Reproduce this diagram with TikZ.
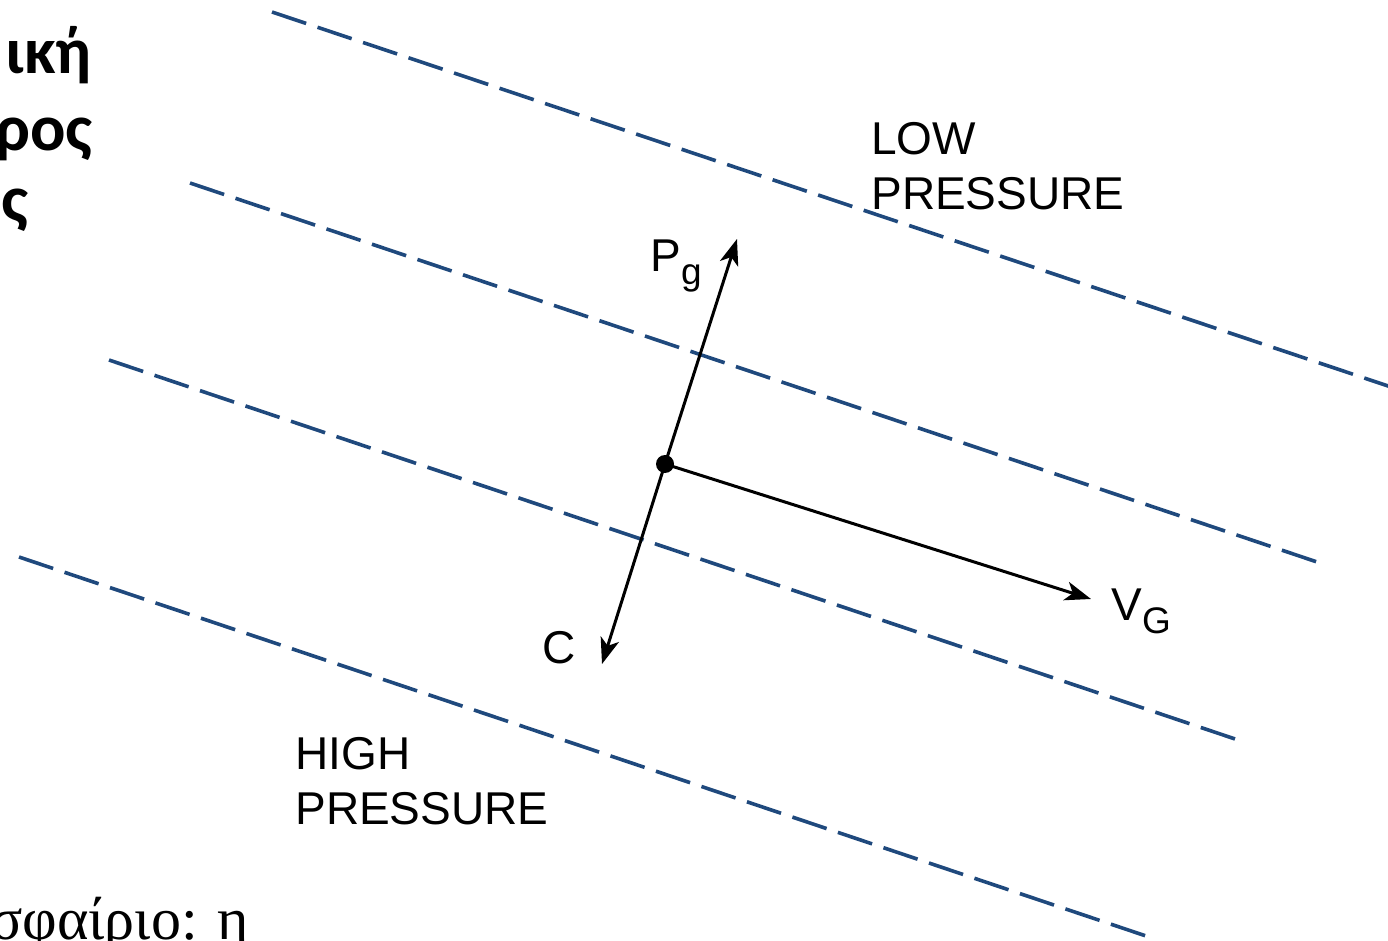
\documentclass[tikz,border=0pt]{standalone}
\usepackage{fontspec}
\setmainfont{Liberation Sans}
\newfontfamily\serifgr{Liberation Serif}
\newfontfamily\boldgr{Carlito}
\usetikzlibrary{arrows.meta}
\definecolor{isobar}{RGB}{31,73,125}
\begin{document}
\begin{tikzpicture}[x=0.5pt,y=-0.5pt,
  isobarline/.style={draw=isobar,line width=1.8pt,dash pattern=on 18pt off 6pt},
  vec/.style={draw=black,line width=1.5pt,-{Stealth[length=13pt,width=9.5pt,inset=3.5pt]}},
  lbl/.style={inner sep=0pt,anchor=base west,font=\fontsize{23}{27}\selectfont},
  topgr/.style={inner sep=0pt,anchor=base east,font=\boldgr\bfseries\fontsize{33}{40}\selectfont},
  botgr/.style={inner sep=0pt,anchor=base west,font=\serifgr\fontsize{30}{36}\selectfont}]
\useasboundingbox (0,0) rectangle (1388,941);
\clip (0,0) rectangle (1388,941);
\fill[white] (0,0) rectangle (1388,941);
% isobars
\coordinate (a1) at (272,12);  \coordinate (b1) at (1400,390);
\coordinate (a2) at (190,183); \coordinate (b2) at (1326,565);
\coordinate (a3) at (109,360); \coordinate (b3) at (1244,742);
\coordinate (a4) at (19,557);  \coordinate (b4) at (1155,939);
\draw[isobarline] (a1) -- (b1);
\draw[isobarline] (a2) -- (b2);
\draw[isobarline] (a3) -- (b3);
\draw[isobarline] (a4) -- (b4);
% vectors
\node[circle,fill=black,inner sep=0pt,minimum size=9pt] (O) at (665,464) {};
\coordinate (pgtip) at (737,239);
\coordinate (ctip) at (602,664);
\coordinate (vgtip) at (1091,599);
\draw[vec] (O.center) -- (pgtip);
\draw[vec] (O.center) -- (ctip);
\draw[vec] (O.center) -- (vgtip);
% labels
\node[lbl] (pg) at (650,272) {P\raisebox{-6.5pt}{\fontsize{18.5}{20}\selectfont g}};
\node[lbl] (c) at (542,663) {C};
\node[lbl] (vg) at (1111,620) {V\raisebox{-6.5pt}{\fontsize{18.5}{20}\selectfont G}};
\node[lbl] (low1) at (871,155) {LOW};
\node[lbl] (low2) at (871,210) {PRESSURE};
\node[lbl] (high1) at (295,769) {HIGH};
\node[lbl] (high2) at (295,824) {PRESSURE};
% cropped slide text
\node[topgr] (t1) at (92,74) {ική};
\node[topgr] (t2) at (93,151) {ρος};
\node[topgr] (t3) at (29,222) {ς};
\node[botgr] (b) at (-10,939) {σφαίριο: η};
\end{tikzpicture}
\end{document}
